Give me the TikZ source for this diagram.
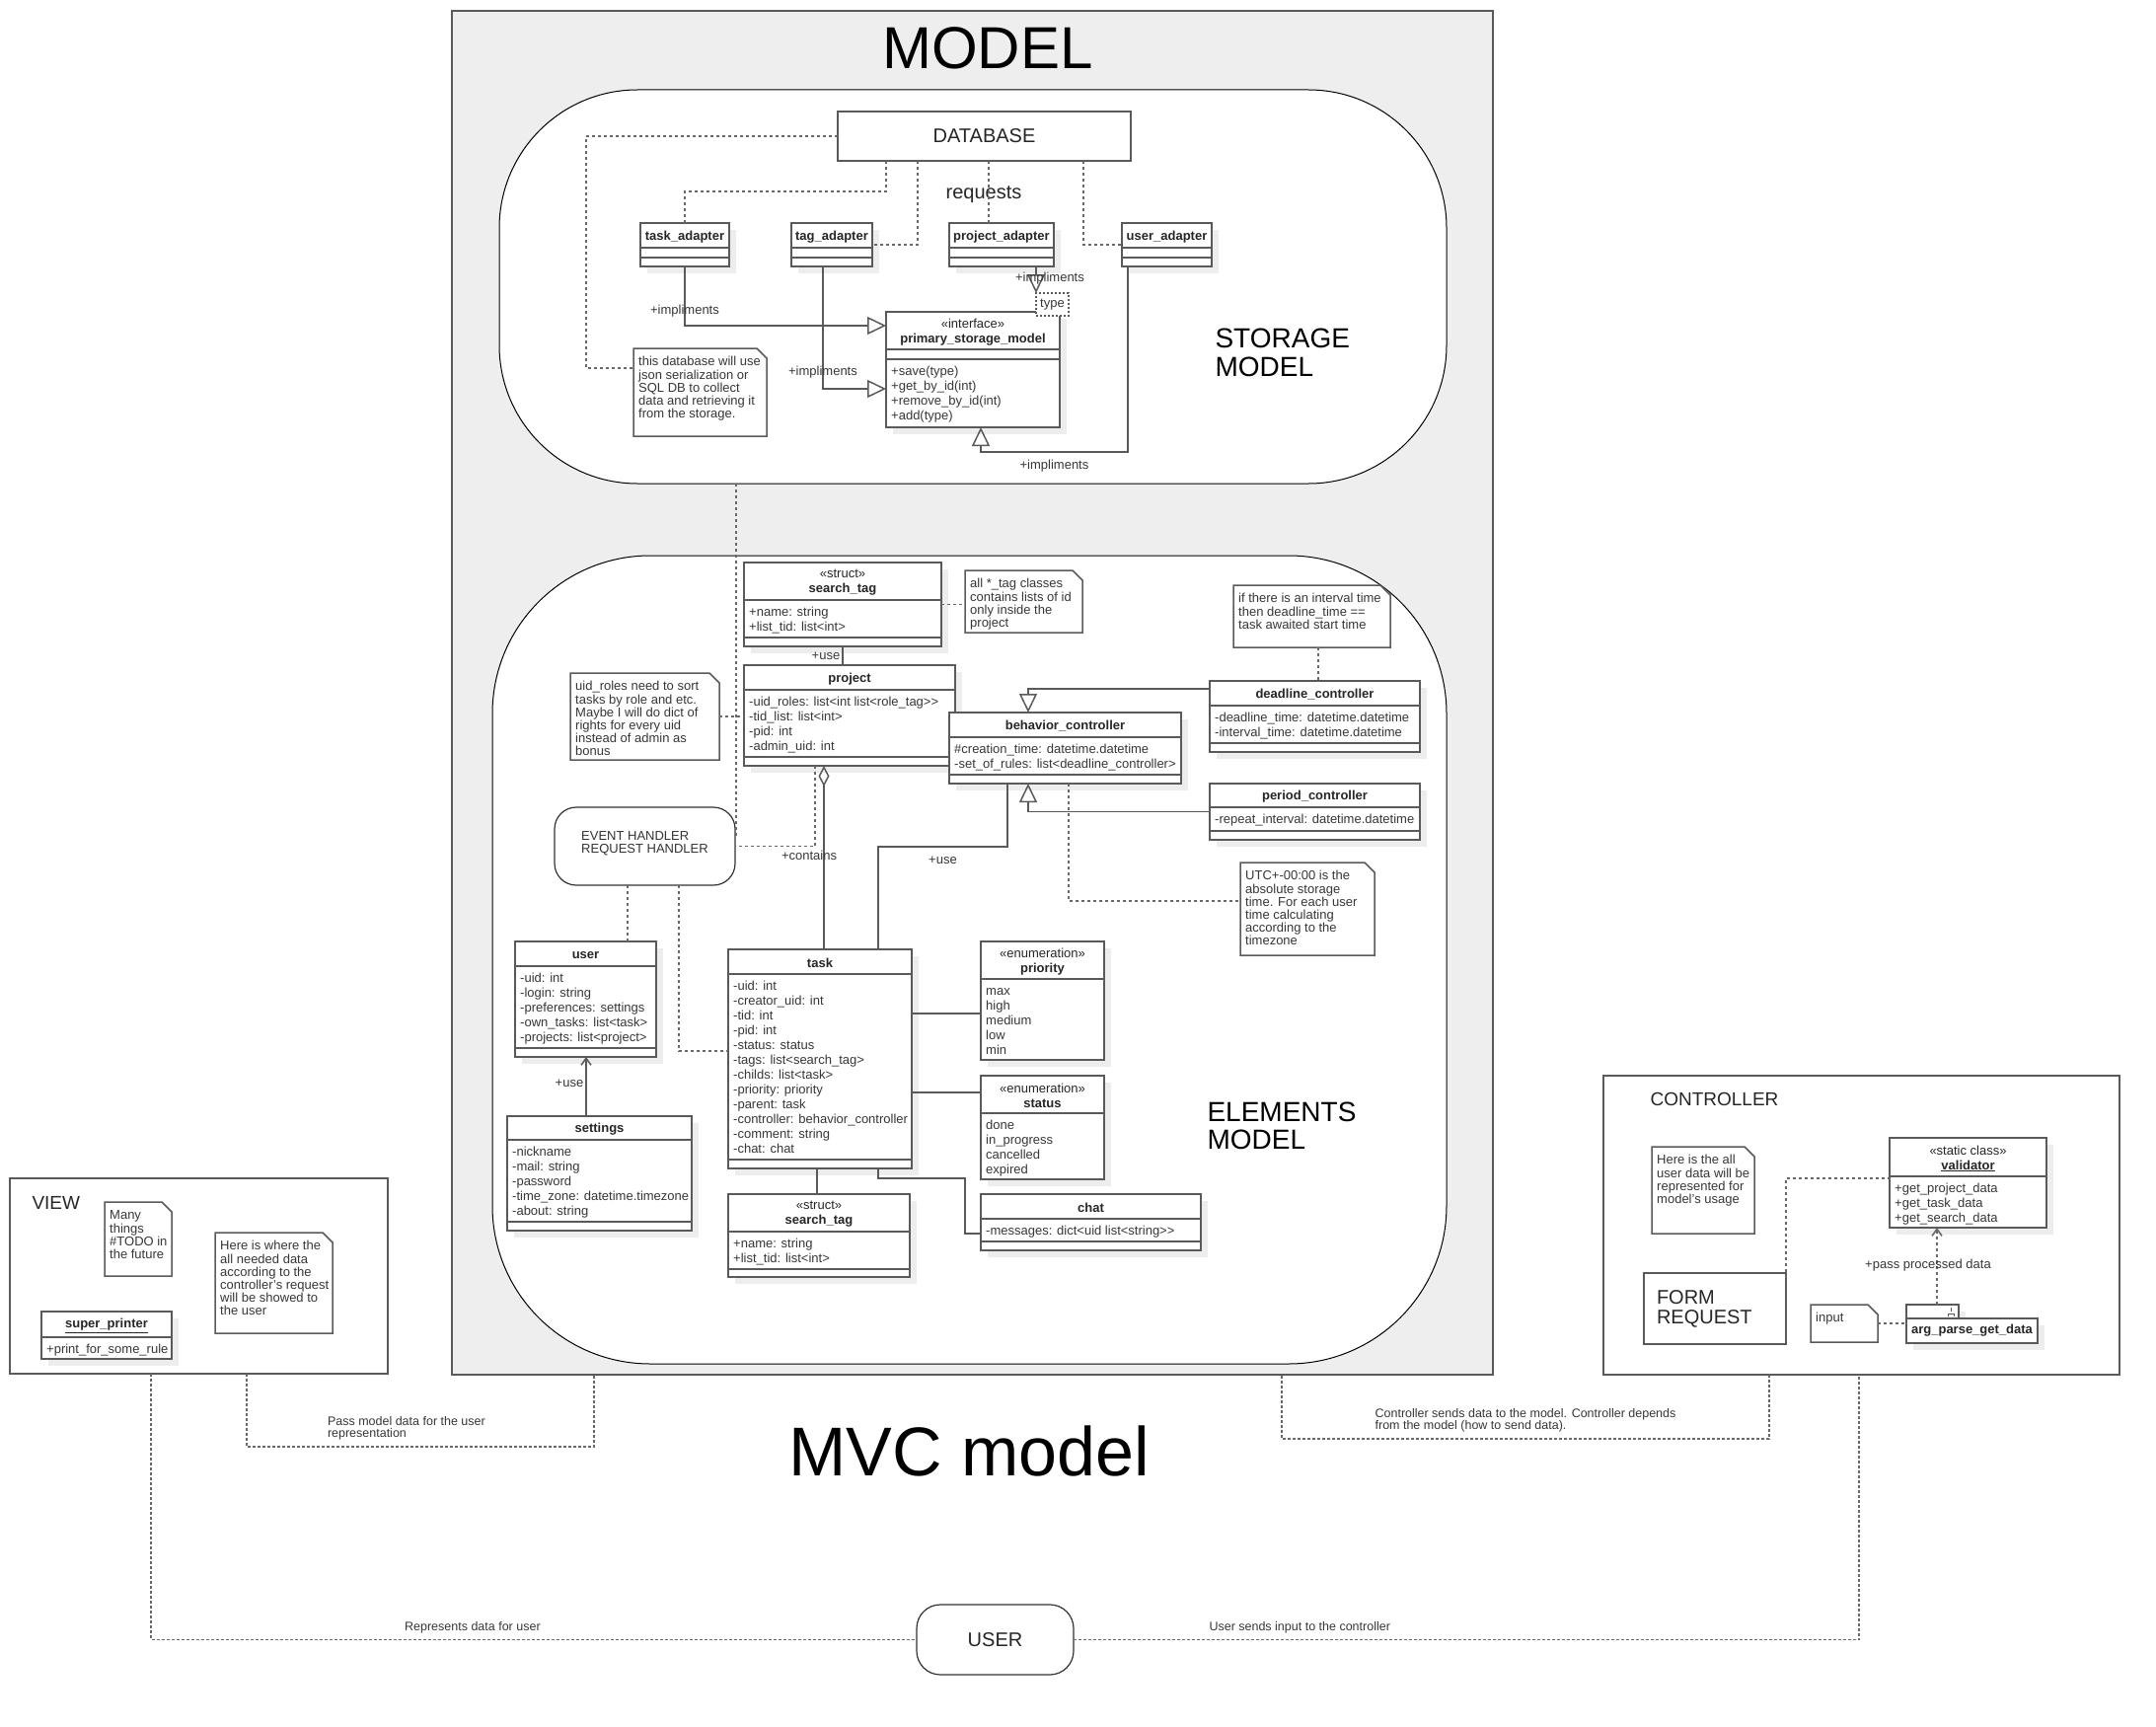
\documentclass[tikz,border=0pt]{standalone}
\usepackage{fontspec}
\setmainfont{Liberation Sans}
\usepackage{tikz}
\usetikzlibrary{arrows.meta,shadows}

\definecolor{bggray}{RGB}{238,238,238}
\definecolor{linegray}{RGB}{90,90,90}
\definecolor{txtgray}{RGB}{55,55,55}
\definecolor{depgray}{RGB}{105,105,105}

\newcommand{\umlclass}[9]{%
    \node[umlbox, minimum width=#4pt, minimum height=#5pt] (#1) at (#2,#3) {};
    \draw[umlline] ([yshift=-#6pt]#1.north west) -- ([yshift=-#6pt]#1.north east);
    \draw[umlline] ([yshift=#7pt]#1.south west) -- ([yshift=#7pt]#1.south east);
    \node[umlhead] (#1-head) at ([yshift=-#6pt/2-1.5pt]#1.north) {#8};
    \node[umlattr] (#1-body) at ([xshift=5pt,yshift=-#6pt-5.5pt]#1.north west) {\strut#9};
}

\newcommand{\umlnote}[6]{%
    \node[notebox, minimum width=#4pt, minimum height=#5pt] (#1) at (#2,#3) {};
    \draw[noteline] (#1.north west) -- ([xshift=-10pt]#1.north east) -- ([yshift=-10pt]#1.north east) -- (#1.south east) -- (#1.south west) -- cycle;
    \node[notetext] (#1-text) at ([xshift=5pt,yshift=-8pt]#1.north west) {\strut#6};
}

\begin{document}
\begin{tikzpicture}[x=1pt, y=-1pt,
    umlbox/.style={draw=linegray, line width=1.5pt, fill=white, anchor=north west, inner sep=0pt, outer sep=0pt,
        drop shadow={shadow xshift=7pt, shadow yshift=-7pt, fill=black!7, opacity=1}},
    umlline/.style={draw=linegray, line width=1.5pt},
    umlhead/.style={align=center, inner sep=0pt, font=\fontsize{13}{15}\selectfont, text=black!85},
    umlattr/.style={anchor=north west, align=left, inner sep=0pt, font=\fontsize{13}{15}\selectfont, text=txtgray},
    notebox/.style={anchor=north west, inner sep=0pt, outer sep=0pt},
    noteline/.style={draw=linegray, line width=1.5pt, fill=white},
    notetext/.style={anchor=north west, align=left, inner sep=0pt, font=\fontsize{13}{13}\selectfont, text=txtgray},
    region/.style={draw=black, line width=1pt, fill=white, anchor=north west, inner sep=0pt, outer sep=0pt},
    frame/.style={draw=linegray, line width=1.5pt, fill=white, anchor=north west, inner sep=0pt, outer sep=0pt},
    plainbox/.style={draw=linegray, line width=1.5pt, fill=white, inner sep=0pt, outer sep=0pt},
    roundbox/.style={draw=black!80, line width=1.2pt, fill=white, inner sep=0pt, outer sep=0pt},
    big/.style={font=\fontsize{20}{20}\selectfont, text=black!85},
    dep/.style={draw=depgray, line width=1.6pt, dash pattern=on 3pt off 3pt},
    flow/.style={draw=depgray, line width=1.2pt, dash pattern=on 3pt off 2pt},
    link/.style={draw=linegray, line width=1.5pt},
    impl/.style={link, -{Triangle[open, length=19pt, width=18pt]}},
    uses/.style={-{Straight Barb[length=7pt, width=10pt]}},
    lbl/.style={font=\fontsize{13}{13}\selectfont, text=txtgray, inner sep=1pt},
    flowlbl/.style={font=\fontsize{12.5}{12.5}\selectfont, text=txtgray, inner sep=2pt, align=left}]

    \useasboundingbox (0,0) rectangle (2185,1750);
    \fill[white] (0,0) rectangle (2185,1750);

    \node[frame, fill=bggray, minimum width=1055pt, minimum height=1382pt] (model) at (458,11) {};
    \node[font=\fontsize{60}{60}\selectfont] (modeltitle) at (1001,49) {MODEL};
    \node[region, rounded corners=140pt, minimum width=960pt, minimum height=399pt] (storage) at (506,91) {};
    \node[region, rounded corners=160pt, minimum width=967pt, minimum height=819pt] (elements) at (499,563) {};
    \node[font=\fontsize{28}{29}\selectfont, anchor=west, align=left] (storagelbl) at (1228,357) {STORAGE\\MODEL};
    \node[font=\fontsize{28}{28}\selectfont, anchor=west, align=left] (elementslbl) at (1220,1141) {ELEMENTS\\MODEL};

    \node[plainbox, big, minimum width=297pt, minimum height=50pt] (db) at (997.5,138) {DATABASE};
    \node[big, anchor=base] (requests) at (997,201) {requests};

    \umlclass{taskad}{649}{226}{90}{44}{25}{9}{\textbf{task\_adapter}}{}
    \umlclass{tagad}{802}{226}{82}{44}{25}{9}{\textbf{tag\_adapter}}{}
    \umlclass{projad}{962}{226}{106}{44}{25}{9}{\textbf{project\_adapter}}{}
    \umlclass{userad}{1137}{226}{91}{44}{25}{9}{\textbf{user\_adapter}}{}
    \umlclass{primary}{898}{316}{176}{117}{38}{69}{«interface»\\\textbf{primary\_storage\_model}}{}
    \node[umlattr] (primary-ops) at ([xshift=5pt,yshift=-53.5pt]primary.north west) {\strut+save(type)\\+get\_by\_id(int)\\+remove\_by\_id(int)\\+add(type)};
    \node[draw=linegray, line width=1.2pt, dash pattern=on 2pt off 2pt, fill=white, inner sep=0pt, outer sep=0pt,
        minimum width=33pt, minimum height=23pt, font=\fontsize{13}{13}\selectfont, text=txtgray] (typeparam) at (1066.5,308.5) {type};
    \umlnote{dbnote}{642}{353}{135}{89}{this database will use\\json serialization or\\SQL DB to collect\\data and retrieving it\\from the storage.}

    \draw[dep] (db.west) -- ++(-255,0) |- ([yshift=24.5pt]dbnote.west);
    \draw[dep] ([xshift=49pt]db.south west) -- ++(0,31) -| (taskad.north);
    \draw[dep] ([xshift=81pt]db.south west) |- (tagad.east);
    \draw[dep] ([xshift=153pt]db.south west) -- ++(0,63);
    \draw[dep] ([xshift=249pt]db.south west) |- (userad.west);
    \draw[impl] (taskad.south) |- node[lbl, pos=0.38] {+impliments} ([yshift=44.5pt]primary.west);
    \draw[impl] ([xshift=-9pt]tagad.south) |- node[lbl, pos=0.43] {+impliments} ([yshift=-19.5pt]primary.west);
    \draw[impl] ([xshift=35pt]projad.south) -- node[lbl, pos=0.45, xshift=14pt] {+impliments} (typeparam.north west);
    \draw[impl] ([xshift=6pt]userad.south west) -- ++(0,188) -| node[lbl, pos=0.25, below=6pt] {+impliments} ([xshift=8pt]primary.south);

    \umlclass{stag}{754}{570}{200}{85}{38}{9}{«struct»\\\textbf{search\_tag}}{+name: string\\+list\_tid: list<int>}
    \umlclass{project}{754}{674}{214}{102}{25}{9}{\textbf{project}}{-uid\_roles: list<int list<role\_tag>{}>\\-tid\_list: list<int>\\-pid: int\\-admin\_uid: int}
    \umlclass{behav}{962}{722}{235}{72}{25}{9}{\textbf{behavior\_controller}}{\#creation\_time: datetime.datetime\\-set\_of\_rules: list<deadline\_controller>}
    \umlclass{deadline}{1226}{690}{213}{72}{25}{9}{\textbf{deadline\_controller}}{-deadline\_time: datetime.datetime\\-interval\_time: datetime.datetime}
    \umlclass{period}{1226}{794}{213}{57}{24}{9}{\textbf{period\_controller}}{-repeat\_interval: datetime.datetime}
    \umlclass{user}{522}{954}{143}{117}{25}{9}{\textbf{user}}{-uid: int\\-login: string\\-preferences: settings\\-own\_tasks: list<task>\\-projects: list<project>}
    \umlclass{settings}{514}{1131}{187}{116}{24}{9}{\textbf{settings}}{-nickname\\-mail: string\\-password\\-time\_zone: datetime.timezone\\-about: string}
    \umlclass{task}{738}{962}{186}{222}{25}{9}{\textbf{task}}{-uid: int\\-creator\_uid: int\\-tid: int\\-pid: int\\-status: status\\-tags: list<search\_tag>\\-childs: list<task>\\-priority: priority\\-parent: task\\-controller: behavior\_controller\\-comment: string\\-chat: chat}
    \umlclass{stagb}{738}{1210}{184}{84}{38}{8}{«struct»\\\textbf{search\_tag}}{+name: string\\+list\_tid: list<int>}
    \umlclass{priority}{994}{954}{125}{120}{38}{0}{«enumeration»\\\textbf{priority}}{max\\high\\medium\\low\\min}
    \umlclass{status}{994}{1090}{125}{105}{38}{0}{«enumeration»\\\textbf{status}}{done\\in\_progress\\cancelled\\expired}
    \umlclass{chat}{994}{1210}{223}{57}{25}{9}{\textbf{chat}}{-messages: dict<uid list<string>{}>}
    \node[roundbox, rounded corners=22pt, minimum width=183pt, minimum height=79pt, align=left,
        font=\fontsize{13}{13}\selectfont, text=black!80] (evh) at (653.5,857.5) {EVENT HANDLER\\REQUEST HANDLER\\[-6pt]};

    \umlnote{uidnote}{578}{682}{151}{88}{uid\_roles need to sort\\tasks by role and etc.\\Maybe I will do dict of\\rights for every uid\\instead of admin as\\bonus}
    \umlnote{tagnote}{978}{578}{119}{63}{all *\_tag classes\\contains lists of id\\only inside the\\project}
    \umlnote{ivnote}{1250}{593}{159}{63}{if there is an interval time\\then deadline\_time ==\\task awaited start time}
    \umlnote{utcnote}{1257}{874}{136}{94}{UTC+-00:00 is the\\absolute storage\\time. For each user\\time calculating\\according to the\\timezone}

    \draw[dep] ([xshift=-240pt]storage.south) |- ([yshift=10pt]evh.east);
    \draw[link] (stag.south) -- node[lbl, left=1pt] {+use} (stag.south |- project.north);
    \draw[dep] (uidnote.east) -- (uidnote.east -| project.west);
    \draw[link, {Diamond[open, length=21pt, width=11pt]}-] ([xshift=-26pt]project.south) -- node[lbl, pos=0.49, xshift=-15pt] {+contains} ++(0,186);
    \draw[dep] ([xshift=-35pt]project.south) |- (evh.east);
    \draw[dep] ([xshift=-17.5pt]evh.south) -- ++(0,57);
    \draw[dep] ([xshift=34.5pt]evh.south) |- ([yshift=8pt]task.west);
    \draw[link] ([xshift=59pt]task.north) -- ++(0,-104) -| node[lbl, pos=0.25, below=8pt] {+use} ([xshift=-58.5pt]behav.south);
    \draw[impl] ([yshift=28pt]deadline.west) -| ([xshift=-37.5pt]behav.north);
    \draw[impl] (period.west) -| ([xshift=-37.5pt]behav.south);
    \draw[dep] ([xshift=6.5pt]ivnote.south) -- ++(0,34);
    \draw[dep] (stag.east) -- (stag.east -| tagnote.west);
    \draw[dep] ([xshift=3.5pt]behav.south) |- ([yshift=8pt]utcnote.west);
    \draw[link, uses] ([xshift=-13.5pt]settings.north) -- node[lbl, left=1pt, pos=0.55] {+use} ++(0,-60);
    \draw[link] ([xshift=-3pt]task.south) -- ++(0,26);
    \draw[link] ([yshift=46pt]task.east) -- ++(70,0);
    \draw[link] ([yshift=-34pt]task.east) -- ++(70,0);
    \draw[link] ([xshift=59pt]task.south) |- ++(88,10) |- ([yshift=-11.5pt]chat.west);

    \node[frame, minimum width=383pt, minimum height=198pt] (view) at (10,1194) {};
    \node[font=\fontsize{19}{19}\selectfont, text=black!85, anchor=west] (viewlbl) at (29,1219) {VIEW};
    \umlnote{todonote}{106}{1218}{68}{75}{Many\\things\\\#TODO in\\the future}
    \umlnote{viewnote}{218}{1249}{119}{102}{Here is where the\\all needed data\\according to the\\controller's request\\will be showed to\\the user}
    \umlclass{printer}{42}{1329}{132}{48}{26}{0}{\underline{\textbf{super\_printer}}}{+print\_for\_some\_rule}

    \node[frame, minimum width=523pt, minimum height=303pt] (ctrl) at (1625,1090) {};
    \node[font=\fontsize{19}{19}\selectfont, text=black!85, anchor=west] (ctrllbl) at (1669,1114) {CONTROLLER};
    \umlnote{ctrlnote}{1674}{1162}{104}{88}{Here is the all\\user data will be\\represented for\\model's usage}
    \umlclass{validator}{1915}{1153}{159}{91}{39}{0}{«static class»\\\underline{\textbf{validator}}}{+get\_project\_data\\+get\_task\_data\\+get\_search\_data}
    \node[plainbox, anchor=north west, minimum height=72pt, text width=118pt, inner xsep=13pt, align=left,
        font=\fontsize{20}{20}\selectfont, text=black!85] (form) at (1666,1290) {FORM\\REQUEST};
    \umlnote{inputnote}{1835}{1322}{68}{38}{input}
    \node[umlbox, minimum width=53pt, minimum height=14pt] (argtab) at (1932,1322) {};
    \node[umlbox, minimum width=133pt, minimum height=25pt, font=\fontsize{13}{13}\selectfont\bfseries, text=black!85] (argbody) at (1932,1336) {arg\_parse\_get\_data};
    \draw[linegray, line width=1pt] ([xshift=-8pt,yshift=-3pt]argtab.north east) -- ++(0,4) ++(-3,5) -- ++(0,-3) -- ++(6,0) -- ++(0,3);

    \draw[dep] ([yshift=-5pt]form.north east) |- ([yshift=4.5pt]validator.west);
    \draw[dep] (inputnote.east) -- ++(29,0);
    \draw[dep, uses] ([xshift=4.5pt]argtab.north) -- node[lbl, pos=0.51, xshift=-9pt] {+pass processed data} ++(0,-78);

    \node[font=\fontsize{70}{70}\selectfont] (mvctitle) at (982,1470) {MVC model};
    \node[roundbox, rounded corners=24pt, minimum width=159pt, minimum height=71pt, font=\fontsize{20}{20}\selectfont, text=black!85] (useractor) at (1008.5,1661.5) {USER};

    \draw[flow] ([xshift=-48.5pt]view.south) |- node[flowlbl, pos=0.71, above=4pt] {Represents data for user} (useractor.west);
    \draw[flow] ([xshift=48.5pt]view.south) -- ++(0,74) -| node[flowlbl, pos=0.23, above=4pt] {Pass model data for the user\\representation} ([xshift=-383.5pt]model.south);
    \draw[flow] (useractor.east) -| node[flowlbl, pos=0.144, above=4pt] {User sends input to the controller} ([xshift=-2.5pt]ctrl.south);
    \draw[flow] ([xshift=-93.5pt]ctrl.south) -- ++(0,65) -| node[flowlbl, pos=0.25, above=4pt] {Controller sends data to the model. Controller depends\\from the model (how to send data).} ([xshift=313.5pt]model.south);
\end{tikzpicture}
\end{document}
